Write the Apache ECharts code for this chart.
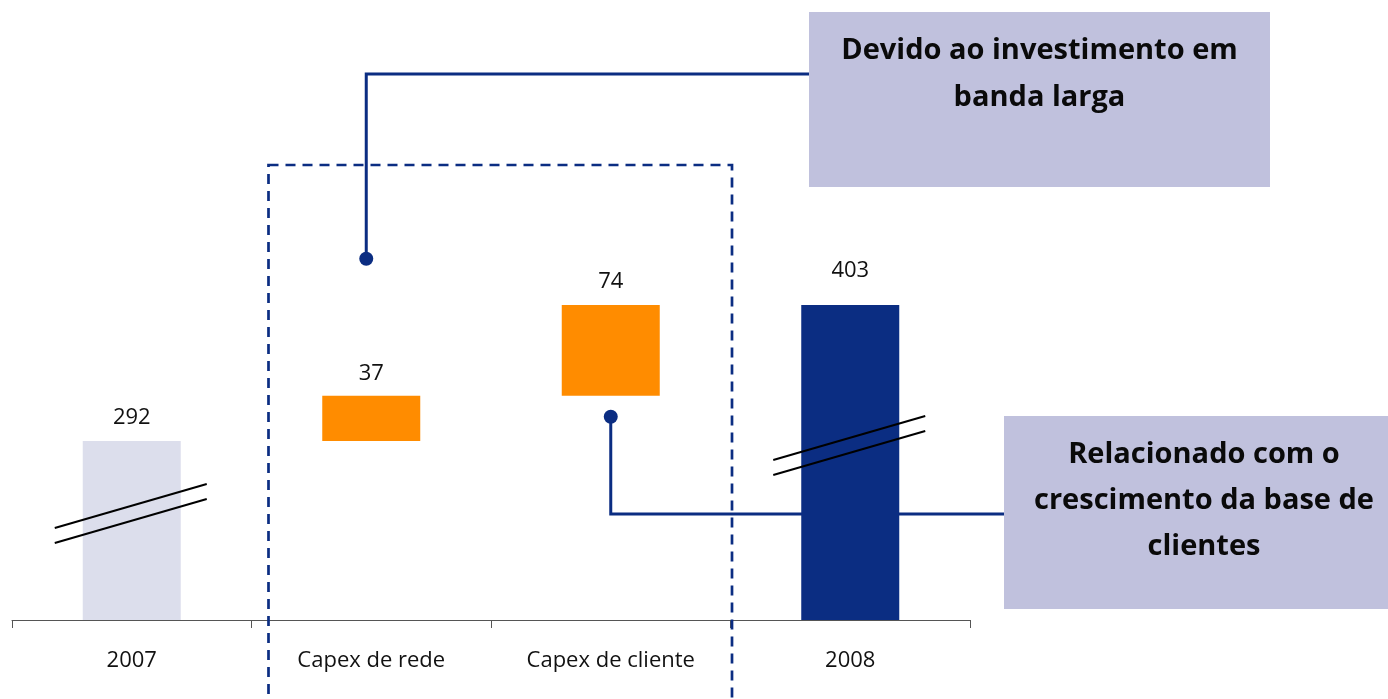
<!DOCTYPE html>
<html>
<head>
<meta charset="utf-8">
<script src="https://cdn.jsdelivr.net/npm/echarts@6/dist/echarts.min.js"></script>
<style>
  html, body { margin: 0; padding: 0; background: #ffffff; }
  #chart { width: 1388px; height: 699px; }
</style>
</head>
<body>
<div id="chart"></div>
<script>
// Capex bridge 2007 -> 2008
const categories = ['2007', 'Capex de rede', 'Capex de cliente', '2008'];
const values = [292, 37, 74, 403];
// invisible base under each floating step
const offsets = [0, 292, 329, 0];
const noteTop = 'Devido ao investimento em\nbanda larga';
const noteBottom = 'Relacionado com o\ncrescimento da base de\nclientes';

const FONT = '"Open Sans", "Noto Sans", sans-serif';
const NAVY = '#0b2d82';
const barColors = ['#dcdeec', '#ff8c00', '#ff8c00', NAVY];
const labelGap = [12, 11, 12, 23];

const chart = echarts.init(document.getElementById('chart'), null, { renderer: 'canvas' });

chart.setOption({
  animation: false,
  textStyle: { fontFamily: FONT },
  grid: { left: 12, right: 418, top: 0, bottom: 79, containLabel: false },
  xAxis: {
    type: 'category',
    data: categories,
    axisLine: { lineStyle: { color: '#555555', width: 1 } },
    axisTick: { show: true, length: 8, lineStyle: { color: '#555555', width: 1 } },
    axisLabel: { fontSize: 22, color: '#111111', margin: 30, fontFamily: FONT }
  },
  yAxis: { type: 'value', min: 146, max: 652, show: false },
  series: [
    {
      type: 'bar', stack: 'bridge', barWidth: 98, silent: true,
      itemStyle: { color: 'rgba(0,0,0,0)' },
      data: offsets
    },
    {
      type: 'bar', stack: 'bridge', barWidth: 98,
      label: { show: true, position: 'top', fontSize: 22, color: '#111111', fontFamily: FONT },
      data: values.map((v, i) => ({
        value: v,
        itemStyle: { color: barColors[i] },
        label: { distance: labelGap[i] }
      }))
    }
  ]
});

function px(i, v) {
  return chart.convertToPixel({ gridIndex: 0 }, [i, v]);
}

function buildOverlay() {
  const yMin = 146;
  const c = categories.map((_, i) => px(i, yMin)[0]);
  const base = px(0, yMin)[1];
  const band = c[1] - c[0];
  const stepTop = px(1, offsets[1] + values[1])[1];
  const stepBottom = px(2, offsets[2])[1];

  const els = [];

  // axis-break marks on the two totals
  const breaks = [
    { cx: c[0], y: base - 92 },
    { cx: c[3], y: base - 160 }
  ];
  breaks.forEach(b => {
    [0, 15].forEach(d => {
      els.push({
        type: 'line', z: 20,
        shape: { x1: b.cx - 77, y1: b.y + d, x2: b.cx + 75, y2: b.y - 44 + d },
        style: { stroke: '#000000', lineWidth: 2 }
      });
    });
  });

  // dashed frame around the two capex steps
  const fx1 = c[1] - band / 2 + 17;
  const fx2 = c[2] + band / 2 + 1.5;
  els.push({
    type: 'rect', z: 1,
    shape: { x: fx1, y: 165, width: fx2 - fx1, height: 600 },
    style: { fill: 'none', stroke: NAVY, lineWidth: 2.7, lineDash: [10, 7] }
  });

  // callout leaders
  const d1 = [c[1] - 5, stepTop - 137];
  const d2 = [c[2], stepBottom + 21];
  els.push({
    type: 'polyline', z: 1,
    shape: { points: [d1, [d1[0], 74], [809, 74]] },
    style: { stroke: NAVY, lineWidth: 3, fill: 'none' }
  });
  els.push({
    type: 'polyline', z: 1,
    shape: { points: [d2, [d2[0], 514], [1004, 514]] },
    style: { stroke: NAVY, lineWidth: 3, fill: 'none' }
  });
  [d1, d2].forEach(p => {
    els.push({ type: 'circle', z: 3, shape: { cx: p[0], cy: p[1], r: 7 }, style: { fill: NAVY } });
  });

  // callout boxes
  els.push({
    type: 'rect', z: 10,
    shape: { x: 809, y: 12, width: 461, height: 175 },
    style: { fill: '#c0c1dd' }
  });
  els.push({
    type: 'text', z: 11, x: 1039.5, y: 27,
    style: {
      text: noteTop, fill: '#0a0a0a', font: 'bold 29px ' + FONT,
      align: 'center', verticalAlign: 'top', lineHeight: 47
    }
  });
  els.push({
    type: 'rect', z: 10,
    shape: { x: 1004, y: 416, width: 400, height: 193 },
    style: { fill: '#c0c1dd' }
  });
  els.push({
    type: 'text', z: 11, x: 1204, y: 432,
    style: {
      text: noteBottom, fill: '#0a0a0a', font: 'bold 29px ' + FONT,
      align: 'center', verticalAlign: 'top', lineHeight: 46
    }
  });

  chart.setOption({ graphic: { elements: els } });
}

buildOverlay();
</script>
</body>
</html>
